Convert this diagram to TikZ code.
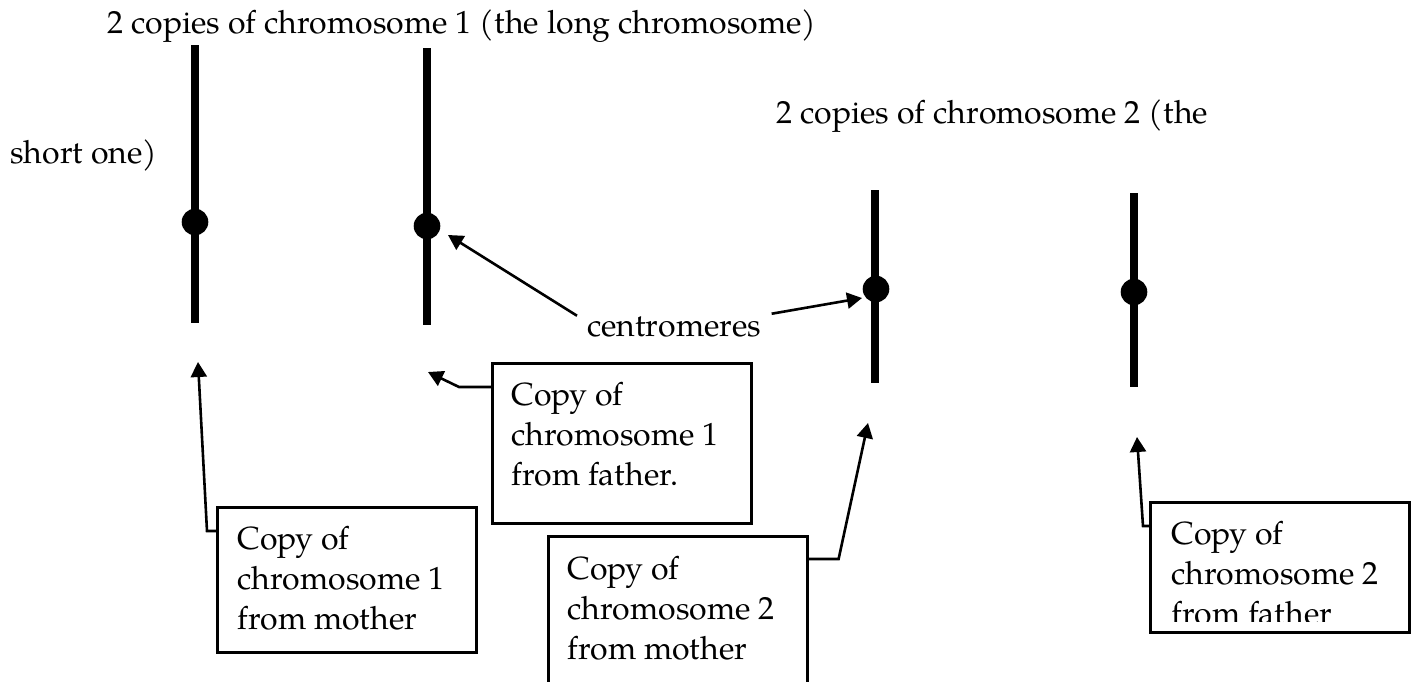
\documentclass[tikz,border=0pt]{standalone}
\usepackage{fontspec}
\setmainfont{TeX Gyre Pagella}
\usetikzlibrary{arrows.meta}
\begin{document}
\begin{tikzpicture}[x=0.5pt,y=-0.5pt,
  chrom/.style={line width=4pt},
  cen/.style={circle,fill=black,minimum size=13.3pt,inner sep=0pt},
  box/.style={draw,line width=1.3pt,inner sep=0pt,anchor=north west,minimum width=129.5pt},
  lbl/.style={font=\fontsize{16}{20}\selectfont,inner sep=0pt},
  boxtxt/.style={lbl,align=left,anchor=north west},
  arr/.style={line width=1.3pt,-{Triangle[length=7.5pt,width=8pt]}}]
\useasboundingbox (0,0) rectangle (1413,681);
\clip (0,0) rectangle (1413,681);

% titles
\node[lbl,anchor=base west] (t1) at (107,33) {2 copies of chromosome 1 (the long chromosome)};
\node[lbl,anchor=base west] (t2) at (776,123) {2 copies of chromosome 2 (the};
\node[lbl,anchor=base west] (t3) at (10,163) {short one)};

% chromosomes
\coordinate (c1t) at (195,45);  \coordinate (c1b) at (195,323);
\coordinate (c2t) at (427,48);  \coordinate (c2b) at (427,325);
\coordinate (c3t) at (875,190); \coordinate (c3b) at (875,383);
\coordinate (c4t) at (1134,193);\coordinate (c4b) at (1134,387);
\draw[chrom] (c1t) -- (c1b);
\draw[chrom] (c2t) -- (c2b);
\draw[chrom] (c3t) -- (c3b);
\draw[chrom] (c4t) -- (c4b);
\node[cen] (k1) at (195,222) {};
\node[cen] (k2) at (427,226) {};
\node[cen] (k3) at (876,289) {};
\node[cen] (k4) at (1134,292) {};

% centromeres label
\node[lbl,anchor=base west] (cm) at (587,336) {centromeres};
\coordinate (ta) at (448,235);
\coordinate (tb) at (862,298);
\draw[arr] ([xshift=-5pt]cm.north west) -- (ta);
\draw[arr] ([xshift=5pt,yshift=1pt]cm.north east) -- (tb);

% boxes
\node[box,minimum height=72.5pt] (b1) at (216,506) {};
\node[box,minimum height=80pt] (b2) at (491,362) {};
\node[box,minimum height=100pt] (b3) at (547,535) {};
\node[box,minimum height=65pt] (b4) at (1149,501) {};

\node[boxtxt] (x1) at ([xshift=10.5pt,yshift=-10pt]b1.north west) {Copy of\\chromosome 1\\from mother};
\node[boxtxt] (x2) at ([xshift=10pt,yshift=-10pt]b2.north west) {Copy of\\chromosome 1\\from father.};
\node[boxtxt] (x3) at ([xshift=10pt,yshift=-10.5pt]b3.north west) {Copy of\\chromosome 2\\from mother};
\begin{scope}
\clip (1149,501) rectangle (1408,621);
\node[boxtxt] (x4) at ([xshift=11pt,yshift=-10pt]b4.north west) {Copy of\\chromosome 2\\from father};
\end{scope}

% arrows from boxes
\coordinate (p1) at (198,362);
\coordinate (p2) at (428,372);
\coordinate (p3) at (868,423);
\coordinate (p4) at (1137,437);
\draw[arr] ([yshift=-12.5pt]b1.north west) -- ++(-9,0) -- (p1);
\draw[arr] ([yshift=-12.5pt]b2.north west) -- ++(-32,0) -- (p2);
\draw[arr] ([yshift=-12pt]b3.north east) -- ++(30,0) -- (p3);
\draw[arr] ([yshift=-12.5pt]b4.north west) -- ++(-6,0) -- (p4);
\end{tikzpicture}
\end{document}
